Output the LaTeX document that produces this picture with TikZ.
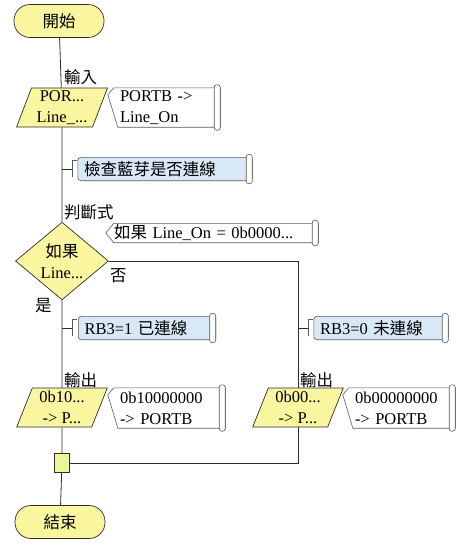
\documentclass[tikz,border=0pt]{standalone}
\usepackage{fontspec}
\setmainfont{Liberation Serif}
\newfontfamily\cjk{Noto Sans CJK TC}
\usetikzlibrary{shapes.geometric,calc}
\pgfdeclarelayer{bg}
\pgfsetlayers{bg,main}
\definecolor{flowyel}{RGB}{250,246,160}
\definecolor{juncyel}{RGB}{236,246,150}
\definecolor{cmtblue}{RGB}{216,232,246}
\definecolor{lnc}{RGB}{45,45,45}
\definecolor{cmc}{RGB}{90,90,90}
\newcommand\zh[1]{{\cjk #1}}
\begin{document}
\begin{tikzpicture}[x=1pt,y=-1pt,
  font=\fontsize{16.5}{21}\selectfont,
  term/.style={draw=lnc, fill=flowyel, rounded corners=16pt, minimum width=90pt, minimum height=33pt, inner sep=0pt, line width=0.7pt},
  io/.style={draw=lnc, fill=flowyel, trapezium, trapezium left angle=70, trapezium right angle=110, trapezium stretches=true, minimum width=91pt, minimum height=39pt, inner sep=0pt, align=center, line width=0.7pt},
  dec/.style={draw=lnc, fill=flowyel, diamond, minimum width=93pt, minimum height=73pt, inner sep=0pt, align=center, line width=0.7pt},
  junc/.style={draw=lnc, fill=juncyel, minimum width=15pt, minimum height=19pt, inner sep=0pt, line width=0.7pt},
  cmt/.style={draw=none, inner ysep=0pt, align=left},
  cline/.style={draw=cmc, line width=0.6pt},
  flow/.style={draw=lnc, line width=0.8pt},
  lbl/.style={inner sep=0pt, anchor=west}
]
\begin{pgfonlayer}{bg}
\useasboundingbox[fill=white] (0,0) rectangle (460,547);
\end{pgfonlayer}

% main nodes
\node[term] (start) at (59,21) {\zh{開始}};
\node[io] (in) at (62,107.5) {POR...\\Line\_...};
\node[dec] (dec) at (62,261) {\zh{如果}\\Line...};
\node[io] (out1) at (62,407.5) {0b10...\\-> P...};
\node[io] (out2) at (298,407.5) {0b00...\\-> P...};
\node[junc] (junc) at (62,463) {};
\node[term] (end) at (60,522) {\zh{結束}};

% labels
\node[lbl] (lin) at (64,77) {\zh{輸入}};
\node[lbl] (ljud) at (64,212) {\zh{判斷式}};
\node[lbl] (lno) at (110,276) {\zh{否}};
\node[lbl] (lyes) at (35,306) {\zh{是}};
\node[lbl] (lout1) at (64,380) {\zh{輸出}};
\node[lbl] (lout2) at (300,380) {\zh{輸出}};

% connectors
\begin{pgfonlayer}{bg}
\draw[flow] (start) -- (in);
\draw[flow] (in) -- (dec);
\draw[flow] (dec) -- (out1);
\draw[flow] (out1) -- (junc);
\draw[flow] (junc) -- (end);
\draw[flow] (dec.east) -| (out2.north);
\draw[flow] (out2.south) |- (junc.east);
\end{pgfonlayer}

% comment nodes
\node[cmt, text width=90pt, inner xsep=10pt, minimum height=39pt] (c1) at (165,107.5) {PORTB ->\\Line\_On};
\node[cmt, text width=162pt, inner xsep=6pt, minimum height=23pt] (c2) at (165,169) {\zh{檢查藍芽是否連線}};
\node[cmt, text width=196pt, inner xsep=8pt, minimum height=19pt] (c3) at (212,233) {\zh{如果} Line\_On = 0b0000...};
\node[cmt, text width=125pt, inner xsep=6pt, minimum height=23pt] (c4) at (147,328) {RB3=1 \zh{已連線}};
\node[cmt, text width=122pt, inner xsep=6pt, minimum height=23pt] (c5) at (381,328) {RB3=0 \zh{未連線}};
\node[cmt, text width=95pt, inner xsep=10pt, minimum height=40pt] (c6) at (167.5,408) {0b10000000\\-> PORTB};
\node[cmt, text width=90pt, inner xsep=10pt, minimum height=40pt] (c7) at (400,408) {0b00000000\\-> PORTB};

% tick coordinates
\coordinate (k2) at (62,169);
\coordinate (b2) at (72,169);
\coordinate (k4) at (62,328);
\coordinate (b4) at (72,328);
\coordinate (k5) at (298,328);
\coordinate (b5) at (308,328);

\begin{pgfonlayer}{bg}
% comment outlines for I/O items
\foreach \c in {c1,c6,c7}{
  \draw[cline, fill=white] ([xshift=4pt]\c.north west) -- ([xshift=-2pt,yshift=-7pt]\c.north west) -- ([xshift=8pt]\c.south west) -- (\c.south east) -- (\c.north east) -- cycle;
}
% decision comment
\draw[cline, fill=white] ([xshift=8pt]c3.north west) -- (c3.west) -- ([xshift=8pt]c3.south west) -- (c3.south east) -- (c3.north east) -- cycle;
% blue comments
\foreach \c/\k/\b in {c2/k2/b2,c4/k4/b4,c5/k5/b5}{
  \draw[flow, line width=0.6pt] (\k) -- (\b);
  \draw[cline] ([yshift=9pt]\b) -- ([xshift=5pt,yshift=9pt]\b);
  \draw[cline] ([yshift=9pt]\b) -- ([yshift=-8pt]\b);
  \draw[cline, fill=cmtblue, rounded corners=3pt] (\c.north west) rectangle (\c.south east);
}
% scroll ends
\foreach \c in {c1,c2,c3,c4,c5,c6,c7}{
  \draw[cline, fill=white, rounded corners=2.5pt] ([xshift=-6pt,yshift=3pt]\c.north east) rectangle ([xshift=0pt,yshift=-3pt]\c.south east);
}
\end{pgfonlayer}
\end{tikzpicture}
\end{document}
